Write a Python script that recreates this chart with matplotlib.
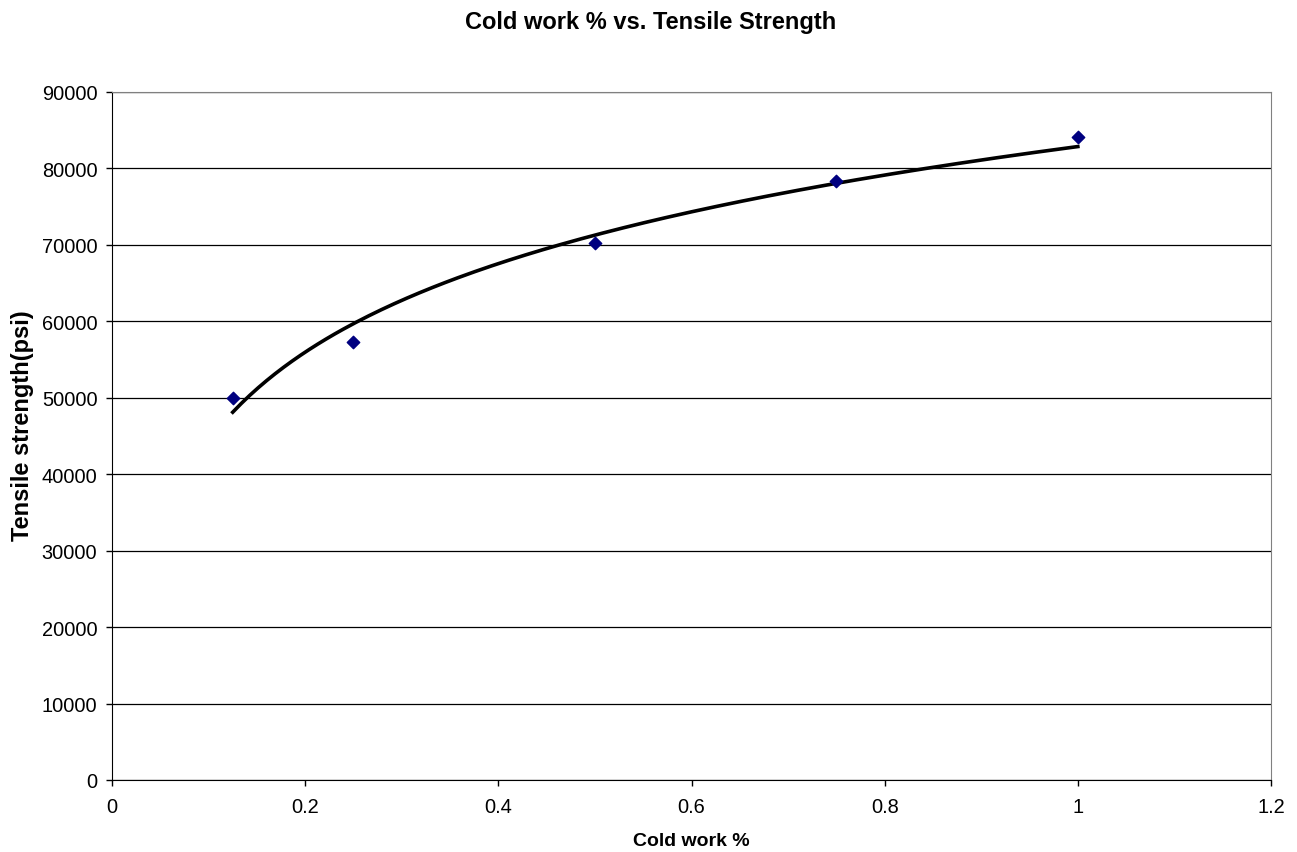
import numpy as np
import matplotlib.pyplot as plt

plt.rcParams['font.family'] = ['Liberation Sans', 'DejaVu Sans']

cold_work = [0.125, 0.25, 0.5, 0.75, 1.0]
tensile = [50000, 57300, 70300, 78300, 84100]

# logarithmic trendline, like the spreadsheet one
b, a = np.polyfit(np.log(cold_work), tensile, 1)
xf = np.linspace(min(cold_work), max(cold_work), 200)
yf = a + b * np.log(xf)

W, H = 1297, 853
fig = plt.figure(figsize=(W/100, H/100), dpi=100)
ax = fig.add_axes([112/W, 1-781/H, (1271-112)/W, (781-93)/H])

ax.plot(xf, yf, color='black', lw=2.6, zorder=3)
ax.scatter(cold_work, tensile, marker='D', s=40, color='#000080', zorder=4)

ax.set_xlim(0, 1.2)
ax.set_ylim(0, 90000)
ax.set_xticks(np.arange(0, 1.21, 0.2))
ax.set_xticklabels(['0', '0.2', '0.4', '0.6', '0.8', '1', '1.2'])
ax.set_yticks(np.arange(0, 90001, 10000))
ax.yaxis.grid(True, color='black', lw=0.9)
ax.set_axisbelow(True)
for s in ax.spines.values():
    s.set_color('#808080')
ax.spines['left'].set_color('black')
ax.spines['bottom'].set_color('black')
ax.tick_params(labelsize=14.4, length=4.5, width=1)
ax.tick_params(axis='x', pad=8)
ax.tick_params(axis='y', pad=6)

fig.text(691/W, 1-842/H, 'Cold work %', ha='center', va='center',
         fontsize=14, fontweight='bold')
fig.text(23/W, 1-426/H, 'Tensile strength(psi)', ha='center', va='center',
         rotation=90, fontsize=17, fontweight='bold')
fig.text(651/W, 1-23/H, 'Cold work % vs. Tensile Strength', ha='center', va='center',
         fontsize=17, fontweight='bold')

fig.savefig('out.png', dpi=100)
